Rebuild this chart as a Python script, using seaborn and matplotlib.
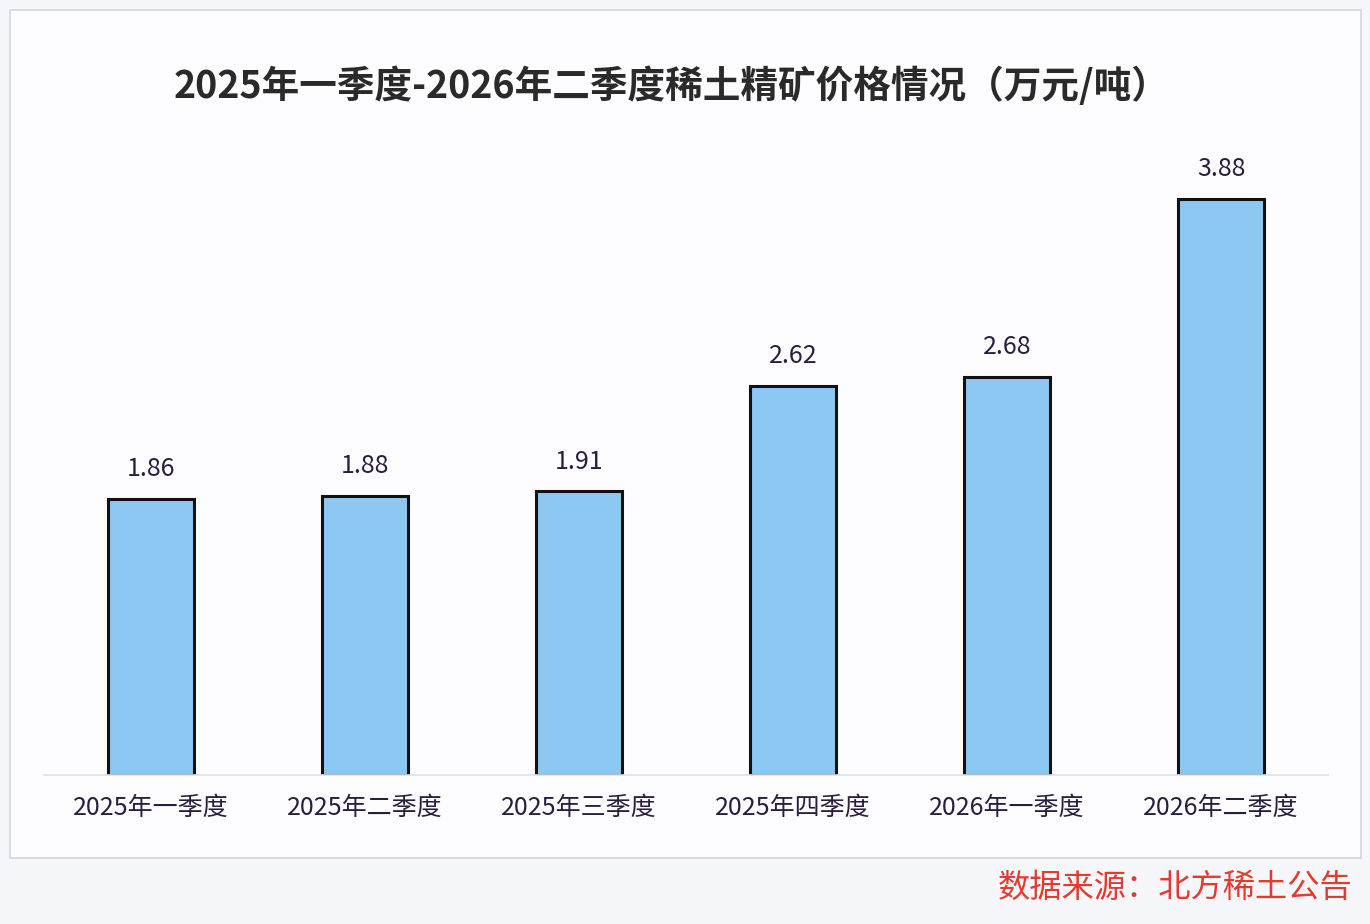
import matplotlib
matplotlib.use("Agg")
import matplotlib.pyplot as plt
import seaborn as sns
from matplotlib.patches import Rectangle

QUARTERS = ["2025年一季度", "2025年二季度", "2025年三季度", "2025年四季度", "2026年一季度", "2026年二季度"]
PRICES = [1.86, 1.88, 1.91, 2.62, 2.68, 3.88]
TITLE = "2025年一季度-2026年二季度稀土精矿价格情况（万元/吨）"
SOURCE = "数据来源：北方稀土公告"

sns.set_theme(style="white")
plt.rcParams["font.family"] = ["Noto Sans CJK SC", "DejaVu Sans"]

fig = plt.figure(figsize=(13.7, 9.24), dpi=100)
fig.patch.set_facecolor("#f6f7fa")

# white inner panel with thin border, kept behind the axes
panel = Rectangle((10 / 1370, 1 - 858 / 924), 1351 / 1370, 848 / 924,
                  transform=fig.transFigure, facecolor="#fdfdff",
                  edgecolor="#d3d6de", linewidth=1.2, zorder=-1)
fig.patches.append(panel)

ax = fig.add_axes([44 / 1370, 1 - 775 / 924, 1284 / 1370, 624 / 924])
ax.set_facecolor("none")

sns.barplot(x=QUARTERS, y=PRICES, color="#8dc8f2", saturation=1,
            width=0.4, edgecolor="#111111", linewidth=2.2, ax=ax)

for i, v in enumerate(PRICES):
    ax.annotate(f"{v:.2f}", (i, v), xytext=(0, 12), textcoords="offset points",
                ha="center", va="bottom", fontsize=18, color="#2b1d3d")

ax.set_xlim(-0.5, 5.5)
ax.set_ylim(0, 4.2)
ax.set_yticks([])
for side in ["top", "right", "left"]:
    ax.spines[side].set_visible(False)
ax.spines["bottom"].set_color("#dde1e8")
ax.spines["bottom"].set_linewidth(1.2)
ax.tick_params(axis="x", length=0, pad=14, labelsize=18, labelcolor="#2b1d3d")
ax.set_xlabel("")
ax.set_ylabel("")

fig.text(672 / 1370, 1 - 86 / 924, TITLE, ha="center", va="center",
         fontsize=27.1, fontweight="bold", color="#2a2a2a")
fig.text(1352 / 1370, 1 - 888 / 924, SOURCE, ha="right", va="center",
         fontsize=23.2, color="#e23b30")

fig.savefig("out.png", dpi=100, facecolor=fig.get_facecolor())
